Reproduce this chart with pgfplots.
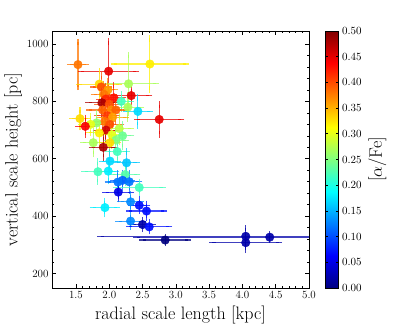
\documentclass[border=0pt]{standalone}
\usepackage{fontspec}
\usepackage{pgfplots}
\usepackage{pgfplotstable}
\pgfplotsset{compat=1.18}
\pgfplotstableread{
x y ex ey c
1.53 928 0.12 78 0.38
1.99 905 0.41 104 0.45
2.61 930 0.54 89 0.32
2.29 861 0.41 100 0.27
1.85 860 0.30 45 0.33
1.88 850 0.12 40 0.40
1.98 840 0.10 30 0.36
1.92 825 0.15 35 0.38
2.33 820 0.27 22 0.45
2.07 812 0.14 45 0.43
1.95 808 0.10 45 0.42
2.18 800 0.15 25 0.22
1.89 795 0.20 40 0.48
2.00 790 0.18 40 0.40
2.28 780 0.20 40 0.27
2.03 770 0.12 35 0.37
1.90 770 0.20 50 0.39
2.10 770 0.15 40 0.39
2.43 765 0.18 49 0.17
1.97 750 0.15 40 0.41
2.05 745 0.20 30 0.36
2.75 737 0.33 52 0.45
1.56 740 0.12 30 0.33
1.93 730 0.12 35 0.38
1.81 725 0.15 35 0.26
1.72 720 0.14 30 0.30
2.01 720 0.17 40 0.40
1.64 713 0.10 30 0.44
2.15 705 0.18 45 0.28
1.95 700 0.15 30 0.46
1.85 690 0.15 35 0.32
2.04 684 0.15 40 0.30
2.20 680 0.13 40 0.24
2.10 665 0.15 35 0.25
1.76 656 0.15 40 0.27
2.01 656 0.12 30 0.33
1.91 640 0.17 35 0.48
2.12 625 0.14 30 0.22
2.01 592 0.12 30 0.17
2.26 586 0.15 40 0.16
1.985 557 0.12 35 0.18
1.83 555 0.20 35 0.22
2.24 545 0.18 30 0.23
2.20 525 0.14 25 0.11
2.13 519 0.15 30 0.12
2.30 520 0.15 30 0.12
2.45 500 0.35 20 0.22
2.135 484 0.19 25 0.05
2.32 450 0.15 25 0.13
2.45 438 0.12 20 0.07
1.935 430 0.18 23 0.18
2.56 418 0.26 25 0.07
2.32 383 0.18 20 0.13
2.50 371 0.15 15 0.02
2.60 363 0.30 15 0.07
4.05 330 2.18 28 0.02
4.41 327 2.00 10 0.02
4.05 308 0.50 25 0.02
2.84 317 0.34 10 0.00
}\datatable
\pgfplotstablegetrowsof{\datatable}
\pgfmathtruncatemacro{\lastrow}{\pgfplotsretval-1}
\begin{document}
\begin{tikzpicture}
\begin{axis}[
  name=ax,
  scale only axis, width=257pt, height=257pt,
  xmin=1.14, xmax=5.0, ymin=150, ymax=1045,
  xtick={1.5,2.0,2.5,3.0,3.5,4.0,4.5,5.0},
  ytick={200,400,600,800,1000},
  minor x tick num=4, minor y tick num=4,
  tick align=inside,
  major tick length=4.5pt, minor tick length=2.2pt,
  axis line style={line width=0.9pt},
  tick style={black, line width=0.6pt},
  ticklabel style={font=\fontsize{11}{13}\selectfont},
  /pgf/number format/1000 sep={},
  xticklabel style={/pgf/number format/fixed, /pgf/number format/fixed zerofill, /pgf/number format/precision=1},
  /pgf/number format/assume math mode=true,
  xlabel={radial scale length [kpc]},
  ylabel={vertical scale height [pc]},
  label style={font=\fontsize{18}{21}\selectfont},
  ylabel style={yshift=-2pt},
  colormap/jet,
  point meta min=0, point meta max=0.5,
  colorbar,
  colorbar style={
    at={(parent axis.north east)}, anchor=north west, xshift=8pt,
    width=13pt,
    ytick={0,0.05,0.1,0.15,0.2,0.25,0.3,0.35,0.4,0.45,0.5},
    yticklabel style={/pgf/number format/fixed, /pgf/number format/fixed zerofill, /pgf/number format/precision=2, font=\fontsize{11}{13}\selectfont},
    ylabel={[$\alpha$/Fe]},
    ylabel style={font=\fontsize{18}{21}\selectfont},
    major tick length=2.5pt,
  },
]
\pgfplotsinvokeforeach{0,...,\lastrow}{
  \pgfplotstablegetelem{#1}{c}\of\datatable
  \pgfmathtruncatemacro{\cidx}{\pgfplotsretval*2000}
  \pgfmathtruncatemacro{\nextrow}{#1+1}
  \edef\doplot{\noexpand\addplot[
    only marks, mark=*, mark size=4.3pt,
    color of colormap={\cidx\space of jet},
    mark options={opacity=0.92},
    error bars/.cd,
      x dir=both, x explicit, y dir=both, y explicit,
      error bar style={line width=1.1pt, opacity=0.75},
      error mark options={mark size=3.2pt, line width=1.1pt},
  ] table[x=x, y=y, x error=ex, y error=ey,
    skip coords between index={0}{#1},
    skip coords between index={\nextrow}{1000}] {\noexpand\datatable};}
  \doplot
}
\end{axis}
\pgfresetboundingbox
\path ([shift={(-52pt,-37pt)}]ax.south west) rectangle ([shift={(363pt,288pt)}]ax.south west);
\end{tikzpicture}
\end{document}
